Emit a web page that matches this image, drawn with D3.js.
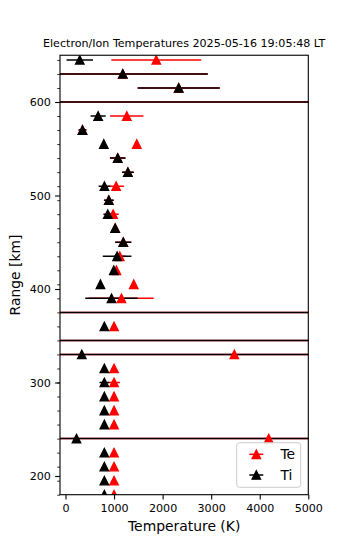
<!DOCTYPE html>
<html><head><meta charset="utf-8">
<script src="https://cdn.jsdelivr.net/npm/d3@7"></script>
<style>body{margin:0;background:#fff} svg{display:block} text{font-family:"DejaVu Sans",sans-serif;fill:#000}</style>
</head><body><svg id="c" width="350" height="550"></svg>
<script>
// ---- data ----
const title = "Electron/Ion Temperatures 2025-05-16 19:05:48 LT";
const ranges    = [645, 630, 615, 600, 585, 570, 555, 540, 525, 510, 495, 480, 465, 450, 435, 420, 405, 390, 375, 360, 345, 330, 315, 300, 285, 270, 255, 240, 225, 210, 195, 180];
const teValues  = [1870, 1180, 2330, -2000, 1262, 350, 1468, 1075, 1285, 1043, 892, 981, 1025, 1190, 1118, 1049, 1406, 1152, -2000, 1000, -2000, 3477, 1000, 1000, 1000, 1000, 1000, 4184, 1000, 1000, 1000, 1000];
const teErrors  = [925, 1750, 845, 12000, 343, 80, 20, 160, 120, 160, 100, 115, 40, 165, 120, 40, 30, 665, 12000, 10, 12000, 10000, 10, 120, 10, 10, 10, 10000, 10, 10, 10, 10];
const tiValues  = [294, 1180, 2332, -2000, 672, 350, 789, 1075, 1285, 802, 892, 871, 1022, 1190, 1063, 995, 720, 947, -2000, 800, -2000, 336, 800, 800, 800, 800, 800, 226, 800, 800, 800, 800];
const tiErrors  = [273, 1750, 845, 12000, 155, 80, 20, 160, 120, 120, 100, 90, 40, 165, 295, 50, 20, 540, 12000, 10, 12000, 10000, 10, 100, 10, 10, 10, 10000, 10, 10, 10, 10];
const xTicks = [0, 1000, 2000, 3000, 4000, 5000];
const yTicks = [200, 300, 400, 500, 600];
const seriesNames = ["Te", "Ti"];
const seriesColors = ["#ff0000", "#000000"];

// ---- layout ----
const svg = d3.select("#c");
const L = 60, R = 308.3, T = 55.25, B = 494.7;
const x = d3.scaleLinear().domain([-113, 5000]).range([L, R]);
const y = d3.scaleLinear().domain([180, 650]).range([B, T]);

const series = [
  {name: seriesNames[0], color: seriesColors[0], vals: teValues, errs: teErrors},
  {name: seriesNames[1], color: seriesColors[1], vals: tiValues, errs: tiErrors}
];

svg.append("defs").append("clipPath").attr("id", "clip")
  .append("rect").attr("x", L).attr("y", T).attr("width", R - L).attr("height", B - T);

const plot = svg.append("g").attr("clip-path", "url(#clip)");
const h = 4.17;
const tri = `M0,${-h}L${h},${h}L${-h},${h}Z`;

// error bars (below all markers)
series.forEach(s => {
  plot.append("g").selectAll("line").data(ranges).join("line")
    .attr("x1", (r, i) => x(s.vals[i] - s.errs[i]))
    .attr("x2", (r, i) => x(s.vals[i] + s.errs[i]))
    .attr("y1", r => y(r)).attr("y2", r => y(r))
    .attr("stroke", s.color).attr("stroke-width", 1.5);
});
// markers
series.forEach(s => {
  plot.append("g").selectAll("path").data(ranges).join("path")
    .attr("d", tri)
    .attr("transform", (r, i) => `translate(${x(s.vals[i])},${y(r)})`)
    .attr("fill", s.color).attr("stroke", s.color).attr("stroke-width", 1.39)
    .attr("stroke-linejoin", "miter");
});

// axes
const xAxis = d3.axisBottom(x).tickValues(xTicks).tickSize(4.9).tickPadding(4.2).tickFormat(d3.format("d"));
const gx = svg.append("g").attr("transform", `translate(0,${B})`).call(xAxis);
gx.select(".domain").remove();
gx.selectAll("line").attr("stroke", "#000").attr("stroke-width", 1.1);
gx.selectAll("text").attr("font-size", "11.1px").attr("font-family", "DejaVu Sans");

const yAxisMinor = d3.axisLeft(y).tickValues(ranges).tickSize(2.8).tickFormat("");
const gym = svg.append("g").attr("transform", `translate(${L},0)`).call(yAxisMinor);
gym.select(".domain").remove();
gym.selectAll("line").attr("stroke", "#000").attr("stroke-width", 0.8);

const yAxis = d3.axisLeft(y).tickValues(yTicks).tickSize(4.9).tickPadding(4.2).tickFormat(d3.format("d"));
const gy = svg.append("g").attr("transform", `translate(${L},0)`).call(yAxis);
gy.select(".domain").remove();
gy.selectAll("line").attr("stroke", "#000").attr("stroke-width", 1.1);
gy.selectAll("text").attr("font-size", "11.1px").attr("font-family", "DejaVu Sans");

svg.append("rect").attr("x", L).attr("y", T).attr("width", R - L).attr("height", B - T)
  .attr("fill", "none").attr("stroke", "#000").attr("stroke-width", 1.1);

// titles
svg.append("text").attr("x", (L + R) / 2).attr("y", 47).attr("text-anchor", "middle")
  .attr("font-size", "11.1px").text(title);
svg.append("text").attr("x", (L + R) / 2).attr("y", 531).attr("text-anchor", "middle")
  .attr("font-size", "13.9px").text("Temperature (K)");
svg.append("text").attr("transform", `translate(20,${(T + B) / 2}) rotate(-90)`).attr("text-anchor", "middle")
  .attr("font-size", "13.9px").text("Range [km]");

// legend
const lg = svg.append("g");
lg.append("rect").attr("x", 236.7).attr("y", 442.7).attr("width", 64).attr("height", 44.6)
  .attr("rx", 2.8).attr("fill", "#fff").attr("fill-opacity", 0.8).attr("stroke", "#cccccc").attr("stroke-width", 1);
series.forEach((s, i) => {
  const cy = 454.3 + i * 20.7;
  lg.append("line").attr("x1", 249.3).attr("x2", 263.3).attr("y1", cy).attr("y2", cy)
    .attr("stroke", s.color).attr("stroke-width", 1.5);
  lg.append("path").attr("d", tri).attr("transform", `translate(256.3,${cy})`)
    .attr("fill", s.color).attr("stroke", s.color).attr("stroke-width", 1.39);
  lg.append("text").attr("x", 280.5).attr("y", cy + 5).attr("font-size", "13.9px").text(s.name);
});
</script>
</body></html>
